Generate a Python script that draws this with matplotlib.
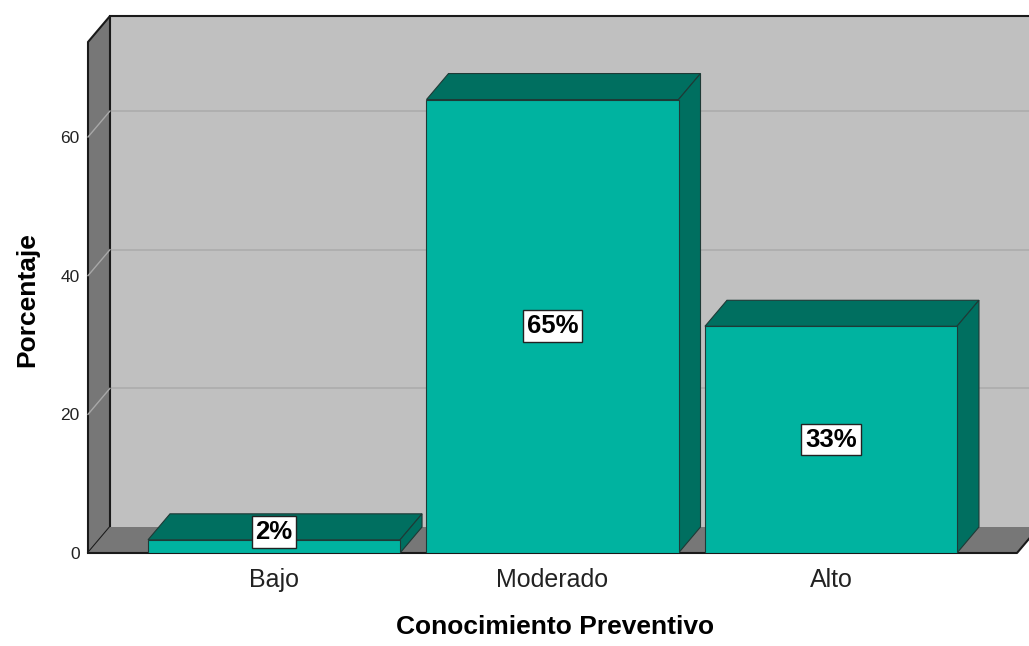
"""
Bar chart: Conocimiento Preventivo (percentages), SPSS-style 3D look.
"""

import matplotlib.pyplot as plt
from matplotlib.patches import Polygon, Rectangle

# ============================================================
# Data
# ============================================================

categories = ["Bajo", "Moderado", "Alto"]
percentages = [1.9, 65.4, 32.7]
bar_labels = ["2%", "65%", "33%"]
y_ticks = [0, 20, 40, 60]

# ============================================================
# Style
# ============================================================

plt.rcParams["font.family"] = ["Liberation Sans", "DejaVu Sans"]

FRONT = "#00b3a0"
DARK = "#006f60"
WALL_BACK = "#c0c0c0"
WALL_SIDE = "#777777"
GRID = "#acacac"

TOP = 73.7        # height of the walls in data units
DX = 0.079        # depth offset, x units
DY = 3.75         # depth offset, y units
WIDTH = 0.905
XMIN, XMAX = -0.668, 2.668

fig = plt.figure(figsize=(10.29, 6.46), dpi=100)
ax = fig.add_axes([88 / 1029, 93 / 646, 929 / 1029, 511 / 646])
ax.set_xlim(XMIN, XMAX)
ax.set_ylim(0, TOP)
for side in ax.spines.values():
    side.set_visible(False)
ax.set_facecolor("none")


def poly(points, face, edge="#1a1a1a", lw=1.0, z=1):
    ax.add_patch(Polygon(points, closed=True, facecolor=face, edgecolor=edge,
                         linewidth=lw, zorder=z, clip_on=False))


# back wall (runs off the right edge of the figure)
poly([(XMIN + DX, DY), (XMAX + DX, DY), (XMAX + DX, TOP + DY),
      (XMIN + DX, TOP + DY)], WALL_BACK, edge="none", z=1)
ax.plot([XMIN + DX, XMAX + DX + 0.2], [TOP + DY, TOP + DY], color="#1a1a1a",
        lw=1.5, zorder=2, clip_on=False)

# left side wall
poly([(XMIN, 0), (XMIN, TOP), (XMIN + DX, TOP + DY), (XMIN + DX, DY)],
     WALL_SIDE, lw=1.5, z=2)

# grid lines on the back wall and the side wall
for t in y_ticks[1:]:
    ax.plot([XMIN + DX, XMAX + DX + 0.2], [t + DY, t + DY], color=GRID,
            lw=1.2, zorder=1.5, clip_on=False)
    ax.plot([XMIN, XMIN + DX], [t, t + DY], color="#a8a8a8", lw=1.0,
            zorder=2.5, clip_on=False)

# floor
poly([(XMIN, 0), (XMAX, 0), (XMAX + DX, DY), (XMIN + DX, DY)],
     WALL_SIDE, edge="none", z=2)
ax.plot([XMIN, XMAX, XMAX + DX], [0, 0, DY], color="#1a1a1a", lw=1.5,
        zorder=2.6, clip_on=False)

# bars
for i, (value, label) in enumerate(zip(percentages, bar_labels)):
    x0, x1 = i - WIDTH / 2, i + WIDTH / 2
    z = 3 + i
    poly([(x0, value), (x1, value), (x1 + DX, value + DY), (x0 + DX, value + DY)],
         DARK, edge="#1e3a36", lw=0.8, z=z)
    poly([(x1, 0), (x1 + DX, DY), (x1 + DX, value + DY), (x1, value)],
         DARK, edge="#1e3a36", lw=0.8, z=z)
    ax.add_patch(Rectangle((x0, 0), WIDTH, value, facecolor=FRONT,
                           edgecolor="#1e3a36", linewidth=0.8, zorder=z))
    ax.text(i, max(value / 2, 3.0), label, ha="center", va="center",
            fontsize=18.5, fontweight="bold", zorder=10,
            bbox=dict(boxstyle="square,pad=0.15", facecolor="white",
                      edgecolor="#222222", linewidth=1.0))

# axes text
ax.set_xticks(range(len(categories)))
ax.set_xticklabels(categories, fontsize=18, color="#222222")
ax.set_yticks(y_ticks)
ax.set_yticklabels([str(t) for t in y_ticks], fontsize=12.5, color="#222222")
ax.tick_params(axis="x", length=0, pad=11)
ax.tick_params(axis="y", length=0, pad=6)

ax.set_xlabel("Conocimiento Preventivo", fontsize=19, fontweight="bold")
ax.set_ylabel("Porcentaje", fontsize=19, fontweight="bold")
ax.xaxis.set_label_coords(0.503, -0.122)
ax.yaxis.set_label_coords(-0.052, 0.495)

fig.savefig("out.png", dpi=100, facecolor="white")
